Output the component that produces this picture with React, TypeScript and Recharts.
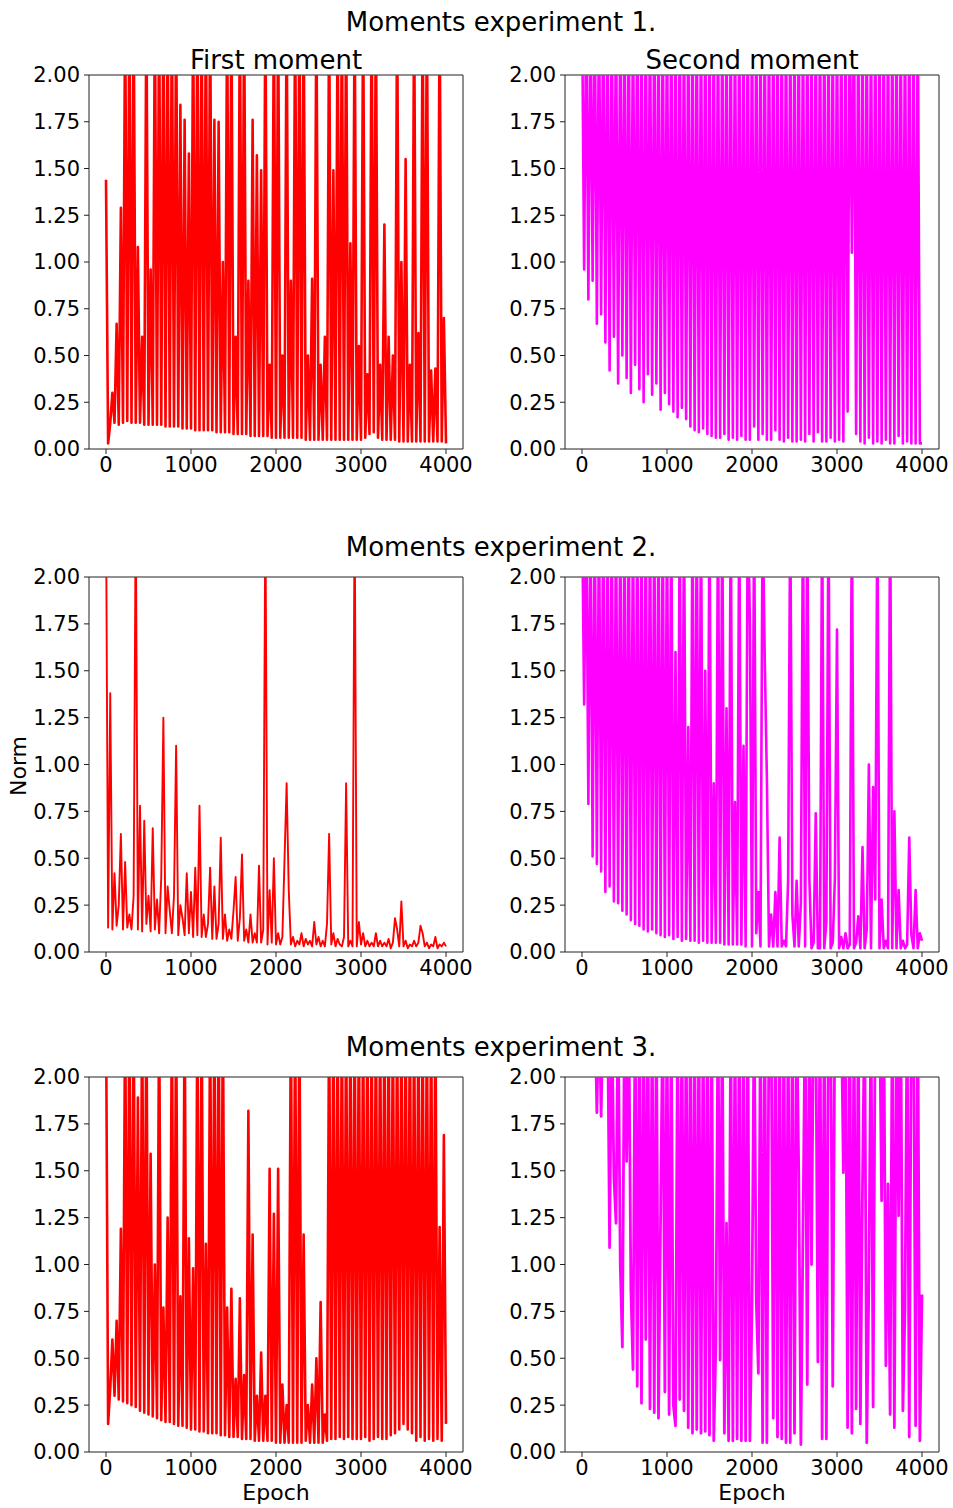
import React from "react";
import { LineChart, Line, XAxis, YAxis, ReferenceArea } from "recharts";

// one value every 25 epochs, 0..4000 (161 points per panel)
const firstMoment1 = [
  1.44, 0.03, 0.14, 0.3, 0.14, 0.67, 0.13, 1.29,
  0.14, 2.4, 0.15, 2.4, 0.14, 2.4, 0.14, 1.08,
  0.14, 0.6, 0.13, 2.4, 0.13, 0.96, 0.13, 2.4,
  0.13, 2.4, 0.13, 2.4, 0.12, 2.4, 0.12, 2.4,
  0.12, 2.4, 0.12, 1.84, 0.11, 1.76, 0.11, 1.58,
  0.11, 2.4, 0.1, 2.4, 0.1, 2.4, 0.1, 2.4,
  0.1, 2.4, 0.1, 1.76, 0.09, 1.75, 0.09, 1.0,
  0.09, 2.4, 0.09, 2.4, 0.08, 0.6, 0.08, 2.4,
  0.08, 2.4, 0.08, 0.9, 0.07, 1.76, 0.07, 1.57,
  0.07, 1.49, 0.07, 2.4, 0.07, 0.45, 0.06, 2.4,
  0.06, 2.4, 0.06, 0.5, 0.06, 2.4, 0.06, 0.9,
  0.06, 2.4, 0.06, 2.4, 0.06, 2.4, 0.05, 0.5,
  0.05, 0.91, 0.05, 2.4, 0.05, 0.45, 0.05, 0.6,
  0.05, 2.4, 0.05, 1.49, 0.05, 2.4, 0.05, 2.4,
  0.05, 2.4, 0.05, 1.1, 0.05, 2.4, 0.05, 0.55,
  0.05, 2.4, 0.06, 0.4, 0.08, 2.4, 0.09, 2.4,
  0.06, 0.45, 0.05, 1.2, 0.05, 0.6, 0.05, 0.5,
  0.05, 2.4, 0.04, 1.0, 0.04, 1.55, 0.04, 0.45,
  0.04, 2.4, 0.04, 0.62, 0.04, 2.4, 0.04, 2.4,
  0.04, 0.42, 0.04, 0.43, 0.04, 2.4, 0.04, 0.7,
  0.03,
];

const secondMoment1 = [
  2.4, 0.96, 2.4, 0.8, 2.4, 0.9, 2.4, 0.67,
  2.4, 0.72, 2.4, 0.57, 2.4, 0.42, 2.4, 0.6,
  2.4, 0.35, 2.4, 0.5, 2.4, 0.38, 2.4, 0.3,
  2.4, 0.45, 2.4, 0.32, 2.4, 0.25, 2.4, 0.4,
  2.4, 0.29, 2.4, 0.35, 2.4, 0.21, 2.4, 0.3,
  2.4, 0.24, 2.4, 0.2, 2.4, 0.17, 2.4, 0.22,
  2.4, 0.16, 2.4, 0.12, 2.4, 0.1, 2.4, 0.09,
  2.4, 0.11, 2.4, 0.08, 2.4, 0.07, 2.4, 0.06,
  2.4, 0.06, 2.4, 0.08, 2.4, 0.05, 2.4, 0.06,
  2.4, 0.05, 2.4, 0.07, 2.4, 0.05, 2.4, 0.05,
  2.4, 0.12, 2.4, 0.05, 2.4, 0.08, 2.4, 0.05,
  2.4, 0.05, 2.4, 0.1, 2.4, 0.05, 2.4, 0.04,
  2.4, 0.06, 2.4, 0.04, 2.4, 0.04, 2.4, 0.05,
  2.4, 0.04, 2.4, 0.08, 2.4, 0.04, 2.4, 0.09,
  2.4, 0.04, 2.4, 0.04, 2.4, 0.06, 2.4, 0.04,
  2.4, 0.05, 2.4, 0.04, 2.4, 0.2, 2.4, 1.05,
  2.4, 0.08, 2.4, 0.04, 2.4, 0.03, 2.4, 0.06,
  2.4, 0.03, 2.4, 0.04, 2.4, 0.03, 2.4, 0.05,
  2.4, 0.03, 2.4, 0.03, 2.4, 0.07, 2.4, 0.03,
  2.4, 0.04, 2.4, 0.03, 2.4, 0.03, 2.4, 0.03,
  0.03,
];

const firstMoment2 = [
  2.4, 0.13, 1.38, 0.12, 0.42, 0.14, 0.25, 0.63,
  0.12, 0.48, 0.13, 0.2, 0.12, 0.3, 2.4, 0.12,
  0.78, 0.11, 0.7, 0.15, 0.3, 0.11, 0.66, 0.12,
  0.28, 0.1, 0.4, 1.25, 0.1, 0.35, 0.22, 0.1,
  0.3, 1.1, 0.09, 0.25, 0.18, 0.09, 0.42, 0.1,
  0.32, 0.08, 0.45, 0.09, 0.78, 0.08, 0.2, 0.08,
  0.15, 0.45, 0.07, 0.35, 0.07, 0.15, 0.61, 0.07,
  0.2, 0.06, 0.12, 0.07, 0.22, 0.4, 0.06, 0.18,
  0.52, 0.06, 0.12, 0.05, 0.2, 0.05, 0.1, 0.05,
  0.46, 0.05, 0.12, 2.4, 0.04, 0.33, 0.05, 0.5,
  0.04, 0.1, 0.04, 0.08, 0.49, 0.9, 0.33, 0.04,
  0.08, 0.03, 0.06, 0.04, 0.1, 0.03, 0.07, 0.04,
  0.06, 0.03, 0.16, 0.04, 0.08, 0.03, 0.06, 0.03,
  0.15, 0.63, 0.04, 0.1, 0.03, 0.07, 0.04, 0.03,
  0.08, 0.9, 0.03, 0.06, 0.03, 2.4, 0.03, 0.16,
  0.04, 0.1, 0.03, 0.06, 0.03, 0.05, 0.03, 0.1,
  0.03, 0.06, 0.03, 0.05, 0.03, 0.07, 0.02, 0.05,
  0.18, 0.12, 0.03, 0.27, 0.03, 0.06, 0.02, 0.04,
  0.03, 0.06, 0.03, 0.05, 0.14, 0.1, 0.03, 0.05,
  0.02, 0.04, 0.03, 0.08, 0.02, 0.04, 0.03, 0.05,
  0.03,
];

const secondMoment2 = [
  2.4, 1.32, 2.4, 0.79, 2.4, 0.51, 2.4, 0.47,
  2.4, 0.43, 2.4, 0.32, 2.4, 0.35, 2.4, 0.27,
  2.4, 0.26, 2.4, 0.22, 2.4, 0.2, 2.4, 0.17,
  2.4, 0.15, 2.4, 0.14, 2.4, 0.12, 2.4, 0.11,
  2.4, 0.12, 2.4, 0.1, 2.4, 0.09, 2.4, 0.08,
  2.4, 0.09, 2.4, 0.07, 1.6, 0.08, 2.4, 0.06,
  2.4, 0.07, 1.2, 0.06, 2.4, 0.06, 2.4, 0.05,
  2.4, 0.06, 1.5, 0.05, 2.4, 0.05, 0.9, 0.05,
  2.4, 0.05, 2.4, 0.04, 1.3, 0.04, 2.4, 0.04,
  0.8, 0.04, 2.4, 0.04, 1.1, 0.03, 2.4, 1.77,
  0.03, 2.4, 0.1, 0.32, 0.03, 2.4, 1.56, 0.93,
  0.03, 0.2, 0.03, 0.32, 0.03, 0.61, 0.03, 0.06,
  0.03, 0.38, 2.4, 0.2, 0.03, 0.38, 0.03, 0.26,
  2.4, 0.03, 2.4, 0.39, 0.02, 0.05, 0.74, 0.02,
  0.02, 2.4, 0.02, 0.16, 2.4, 0.02, 0.05, 0.39,
  1.72, 0.02, 0.08, 0.02, 0.1, 0.02, 0.04, 2.4,
  0.02, 0.05, 0.19, 0.02, 0.56, 0.02, 0.12, 1.0,
  0.02, 0.88, 0.28, 2.4, 0.02, 0.28, 0.02, 0.06,
  0.02, 2.4, 0.02, 0.75, 0.02, 0.33, 0.02, 0.06,
  0.02, 0.04, 0.61, 0.09, 0.02, 0.33, 0.02, 0.1,
  0.06,
];

const firstMoment3 = [
  2.4, 0.15, 0.34, 0.6, 0.3, 0.7, 0.28, 1.19,
  0.27, 2.4, 0.26, 2.4, 0.25, 2.4, 0.24, 1.89,
  0.22, 2.4, 0.21, 2.4, 0.2, 1.59, 0.19, 1.0,
  0.18, 2.4, 0.17, 0.77, 0.16, 1.25, 0.16, 2.4,
  0.15, 2.4, 0.14, 0.83, 0.14, 2.4, 0.13, 1.14,
  0.12, 0.98, 0.12, 2.4, 0.11, 2.4, 0.11, 1.11,
  0.1, 2.4, 0.1, 2.4, 0.1, 2.4, 0.09, 2.4,
  0.09, 0.77, 0.08, 0.87, 0.08, 0.39, 0.08, 0.82,
  0.07, 0.41, 0.07, 1.82, 0.07, 1.16, 0.06, 0.3,
  0.06, 0.53, 0.06, 0.3, 0.06, 1.51, 0.06, 1.27,
  0.05, 1.51, 0.05, 0.36, 0.05, 0.25, 0.05, 2.4,
  0.05, 2.4, 0.05, 2.4, 0.05, 1.16, 0.06, 0.25,
  0.05, 0.36, 0.05, 0.5, 0.05, 0.8, 0.05, 0.2,
  0.06, 2.4, 0.07, 2.4, 0.07, 2.4, 0.08, 2.4,
  0.07, 2.4, 0.08, 2.4, 0.07, 2.4, 0.07, 2.4,
  0.07, 2.4, 0.08, 2.4, 0.06, 2.4, 0.07, 2.4,
  0.08, 2.4, 0.07, 2.4, 0.07, 2.4, 0.09, 2.4,
  0.1, 2.4, 0.12, 2.4, 0.15, 2.4, 0.12, 2.4,
  0.1, 2.4, 0.06, 2.4, 0.08, 2.4, 0.06, 2.4,
  0.07, 2.4, 0.06, 2.4, 0.07, 1.2, 0.06, 1.69,
  0.15,
];

const secondMoment3 = [
  2.4, 2.4, 2.4, 2.4, 2.4, 2.4, 2.4, 1.81,
  2.4, 1.79, 2.4, 2.4, 2.4, 1.09, 2.4, 1.47,
  1.22, 2.4, 1.0, 0.56, 2.4, 1.55, 2.4, 0.87,
  0.44, 2.4, 0.35, 2.4, 0.26, 2.4, 0.6, 2.4,
  0.23, 2.4, 0.21, 2.4, 0.18, 1.27, 2.4, 0.32,
  2.4, 0.2, 2.4, 0.25, 0.14, 2.4, 0.28, 2.4,
  0.22, 2.4, 0.13, 2.4, 0.1, 2.4, 0.12, 2.4,
  0.1, 2.4, 0.11, 2.4, 0.09, 2.4, 0.06, 0.57,
  2.4, 0.49, 2.4, 0.1, 1.22, 0.06, 2.4, 0.06,
  2.4, 0.07, 2.4, 0.06, 2.4, 0.06, 2.4, 0.06,
  0.77, 2.4, 0.81, 0.42, 2.4, 0.05, 2.4, 0.05,
  2.4, 2.4, 0.18, 2.4, 0.08, 2.4, 0.07, 2.4,
  0.05, 2.4, 0.05, 2.4, 0.1, 2.4, 1.48, 0.04,
  1.18, 2.4, 0.36, 2.4, 1.0, 2.4, 2.4, 0.48,
  2.4, 0.07, 2.4, 0.07, 2.4, 2.4, 0.35, 2.4,
  2.4, 2.4, 2.4, 1.49, 2.4, 0.13, 2.4, 0.1,
  2.4, 0.23, 2.4, 0.15, 1.43, 2.4, 0.05, 0.91,
  2.4, 0.24, 2.4, 2.4, 2.4, 1.34, 2.4, 0.46,
  1.43, 0.2, 2.4, 0.13, 2.4, 1.26, 2.4, 0.22,
  0.76, 2.4, 0.08, 2.4, 2.4, 0.14, 2.4, 0.06,
  0.84,
];

const EPOCH_STEP = 25;
const xTicks = [0, 1000, 2000, 3000, 4000];
const yTicks = [0, 0.25, 0.5, 0.75, 1, 1.25, 1.5, 1.75, 2];

const RED = "#ff0000";
const MAGENTA = "#ff00ff";
const FONT = "'DejaVu Sans', sans-serif";

const PLOT_W = 374;
const Y_AXIS_W = 80;
const X_AXIS_H = 34;
const TOP_PAD = 16;
const RIGHT_PAD = 34;

type PanelProps = {
  values: number[];
  color: string;
  lineWidth: number;
  left: number; // plot area left edge, page px
  top: number; // plot area top edge, page px
  height: number; // plot area height
};

const Panel: React.FC<PanelProps> = ({ values, color, lineWidth, left, top, height }) => {
  const data = values.map((v, i) => ({ epoch: i * EPOCH_STEP, norm: v }));
  const tick = { fill: "#000", fontSize: 21, fontFamily: FONT };
  return (
    <div style={{ position: "absolute", left: left - Y_AXIS_W, top: top - TOP_PAD }}>
      <LineChart
        width={Y_AXIS_W + PLOT_W + RIGHT_PAD}
        height={TOP_PAD + height + X_AXIS_H}
        data={data}
        margin={{ top: TOP_PAD, right: RIGHT_PAD, bottom: 0, left: 0 }}
      >
        <XAxis
          dataKey="epoch"
          type="number"
          domain={[-200, 4200]}
          ticks={xTicks}
          allowDataOverflow
          height={X_AXIS_H}
          axisLine={false}
          tickLine={{ stroke: "#222" }}
          tickSize={5}
          tickMargin={3}
          tick={tick}
          interval={0}
        />
        <YAxis
          type="number"
          domain={[0, 2]}
          ticks={yTicks}
          allowDataOverflow
          width={Y_AXIS_W}
          axisLine={false}
          tickLine={{ stroke: "#222" }}
          tickSize={5}
          tickMargin={4}
          tick={tick}
          interval={0}
          tickFormatter={(v: number) => v.toFixed(2)}
        />
        <Line
          type="linear"
          dataKey="norm"
          stroke={color}
          strokeWidth={lineWidth}
          strokeLinejoin="round"
          dot={false}
          activeDot={false}
          isAnimationActive={false}
        />
        <ReferenceArea
          x1={-200}
          x2={4200}
          y1={0}
          y2={2}
          fill="none"
          stroke="#222"
          strokeWidth={1}
        />
      </LineChart>
    </div>
  );
};

const Text: React.FC<{ x: number; y: number; size: number; rotate?: boolean; children: React.ReactNode }> = ({
  x,
  y,
  size,
  rotate,
  children,
}) => (
  <div
    style={{
      position: "absolute",
      left: x,
      top: y,
      transform: `translate(-50%, -50%)${rotate ? " rotate(-90deg)" : ""}`,
      fontFamily: FONT,
      fontSize: size,
      lineHeight: 1,
      whiteSpace: "nowrap",
      color: "#000",
    }}
  >
    {children}
  </div>
);

const LEFT_X = 89;
const RIGHT_X = 565;
const rows = [
  { top: 75, height: 374, title: "Moments experiment 1.", titleY: 22 },
  { top: 577, height: 375, title: "Moments experiment 2.", titleY: 547 },
  { top: 1077, height: 375, title: "Moments experiment 3.", titleY: 1047 },
];
const firstSeries = [firstMoment1, firstMoment2, firstMoment3];
const secondSeries = [secondMoment1, secondMoment2, secondMoment3];
const firstWidths = [2.6, 1.9, 2.6];
const secondWidths = [2.6, 2.6, 2.8];

export default function App() {
  return (
    <div
      style={{
        position: "absolute",
        left: 0,
        top: 0,
        width: 953,
        height: 1508,
        background: "#fff",
        overflow: "hidden",
      }}
    >
      {rows.map((r, i) => (
        <React.Fragment key={r.title}>
          <Panel
            values={firstSeries[i]}
            color={RED}
            lineWidth={firstWidths[i]}
            left={LEFT_X}
            top={r.top}
            height={r.height}
          />
          <Panel
            values={secondSeries[i]}
            color={MAGENTA}
            lineWidth={secondWidths[i]}
            left={RIGHT_X}
            top={r.top}
            height={r.height}
          />
          <Text x={501} y={r.titleY} size={26}>
            {r.title}
          </Text>
        </React.Fragment>
      ))}
      <Text x={276} y={60} size={26}>
        First moment
      </Text>
      <Text x={752} y={60} size={26}>
        Second moment
      </Text>
      <Text x={19} y={766} size={22} rotate>
        Norm
      </Text>
      <Text x={276} y={1493} size={22}>
        Epoch
      </Text>
      <Text x={752} y={1493} size={22}>
        Epoch
      </Text>
    </div>
  );
}
